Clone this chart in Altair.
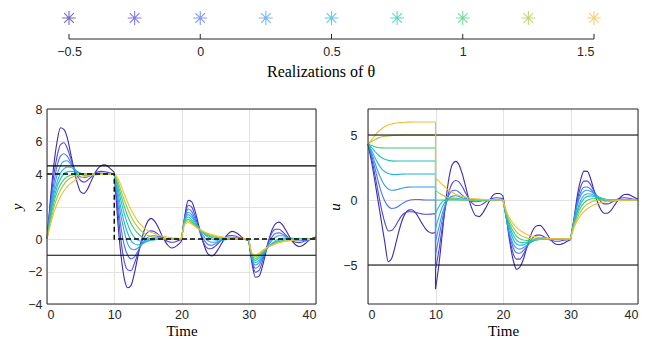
import altair as alt
import pandas as pd

THETA = [-0.5, -0.25, 0, 0.25, 0.5, 0.75, 1, 1.25, 1.5]
COLORS = ["#3e2aa8", "#4b46e2", "#4a72f6", "#3a9af0", "#21b4e2",
          "#22c3b4", "#3dca78", "#a2cb3a", "#f3bd38"]
THETA_TICKS = [-0.5, 0, 0.5, 1, 1.5]

T1 = [0, 0.5, 1, 1.5, 2, 2.5, 3, 3.5, 4, 4.5, 5, 5.5, 6, 6.5, 7, 7.5, 8, 8.5, 9, 9.5, 10]
T2 = [10, 10.5, 11, 11.5, 12, 12.5, 13, 13.5, 14, 14.5, 15, 15.5, 16, 16.5, 17, 17.5, 18, 18.5, 19, 19.5, 20]
T3 = [20, 20.5, 21, 21.5, 22, 22.5, 23, 23.5, 24, 24.5, 25, 25.5, 26, 26.5, 27, 27.5, 28, 28.5, 29, 29.5, 30]
T4 = [30, 30.5, 31, 31.5, 32, 32.5, 33, 33.5, 34, 34.5, 35, 35.5, 36, 36.5, 37, 37.5, 38, 38.5, 39, 39.5, 40]

Y = [
    [[0, 2.4, 4.5, 6.0, 6.85, 6.75, 6.25, 5.3, 4.3, 3.45, 2.9, 2.8, 3.05, 3.5, 3.95, 4.3, 4.5, 4.56, 4.48, 4.3, 4.1],
     [4.1, 1.2, -1.0, -2.45, -3.0, -2.85, -2.1, -1.1, -0.15, 0.6, 1.1, 1.27, 1.1, 0.75, 0.3, -0.1, -0.4, -0.55, -0.5, -0.35, -0.15],
     [-0.15, 1.45, 2.38, 2.3, 1.75, 0.95, 0.1, -0.55, -0.95, -1.05, -0.9, -0.6, -0.25, 0.1, 0.35, 0.47, 0.42, 0.28, 0.1, -0.03, -0.1],
     [-0.1, -1.55, -2.35, -2.3, -1.75, -0.9, -0.05, 0.6, 0.95, 1.04, 0.88, 0.55, 0.18, -0.15, -0.37, -0.46, -0.4, -0.25, -0.07, 0.06, 0.12]],
    [[0, 2.1, 3.9, 5.1, 5.8, 5.92, 5.6, 5.0, 4.4, 3.9, 3.6, 3.5, 3.6, 3.8, 4.0, 4.12, 4.16, 4.15, 4.1, 4.05, 4.02],
     [4.02, 1.9, -0.1, -1.4, -1.9, -1.95, -1.5, -0.9, -0.3, 0.15, 0.42, 0.5, 0.45, 0.3, 0.12, -0.05, -0.15, -0.2, -0.18, -0.1, -0.05],
     [-0.05, 1.38, 2.08, 1.98, 1.45, 0.75, 0.08, -0.4, -0.6, -0.58, -0.45, -0.26, -0.05, 0.12, 0.2, 0.22, 0.18, 0.1, 0.02, -0.03, -0.05],
     [-0.05, -1.38, -2.05, -1.95, -1.42, -0.72, -0.05, 0.42, 0.6, 0.6, 0.46, 0.25, 0.04, -0.12, -0.2, -0.22, -0.18, -0.1, -0.02, 0.03, 0.05]],
    [[0, 1.9, 3.4, 4.5, 5.1, 5.25, 5.1, 4.75, 4.35, 4.0, 3.82, 3.78, 3.82, 3.92, 4.0, 4.05, 4.06, 4.05, 4.03, 4.01, 4.0],
     [4.0, 2.3, 0.7, -0.4, -1.0, -1.22, -1.1, -0.75, -0.38, -0.08, 0.1, 0.18, 0.2, 0.16, 0.1, 0.04, 0.0, -0.02, -0.02, -0.01, 0.0],
     [0.0, 1.3, 1.85, 1.7, 1.25, 0.72, 0.22, -0.15, -0.35, -0.38, -0.3, -0.18, -0.05, 0.05, 0.1, 0.11, 0.09, 0.05, 0.02, 0.0, -0.01],
     [-0.01, -1.28, -1.8, -1.66, -1.22, -0.7, -0.22, 0.15, 0.35, 0.38, 0.3, 0.18, 0.05, -0.05, -0.1, -0.11, -0.09, -0.05, -0.02, 0.0, 0.01]],
    [[0, 1.7, 3.0, 3.95, 4.5, 4.78, 4.82, 4.62, 4.35, 4.12, 3.98, 3.92, 3.93, 3.97, 4.0, 4.02, 4.02, 4.01, 4.0, 4.0, 4.0],
     [4.0, 2.65, 1.4, 0.45, -0.3, -0.6, -0.66, -0.55, -0.35, -0.17, -0.03, 0.05, 0.08, 0.08, 0.06, 0.04, 0.02, 0.01, 0.01, 0.0, 0.0],
     [0.0, 1.25, 1.65, 1.5, 1.12, 0.72, 0.35, 0.06, -0.12, -0.2, -0.2, -0.15, -0.09, -0.03, 0.01, 0.03, 0.03, 0.02, 0.01, 0.0, 0.0],
     [0.0, -1.22, -1.6, -1.47, -1.1, -0.7, -0.34, -0.06, 0.12, 0.2, 0.2, 0.15, 0.09, 0.03, -0.01, -0.03, -0.03, -0.02, -0.01, 0.0, 0.0]],
    [[0, 1.5, 2.7, 3.5, 4.05, 4.32, 4.43, 4.42, 4.3, 4.15, 4.05, 3.99, 3.97, 3.98, 4.0, 4.0, 4.0, 4.0, 4.0, 4.0, 4.0],
     [4.0, 2.95, 1.9, 1.0, 0.35, -0.1, -0.3, -0.36, -0.32, -0.23, -0.13, -0.05, 0.0, 0.02, 0.03, 0.02, 0.01, 0.01, 0.0, 0.0, 0.0],
     [0.0, 1.2, 1.5, 1.35, 1.05, 0.75, 0.48, 0.26, 0.1, 0.0, -0.06, -0.07, -0.06, -0.04, -0.02, 0.0, 0.01, 0.01, 0.0, 0.0, 0.0],
     [0.0, -1.15, -1.45, -1.32, -1.02, -0.73, -0.47, -0.26, -0.1, 0.0, 0.05, 0.07, 0.06, 0.04, 0.02, 0.01, 0.0, 0.0, 0.0, 0.0, 0.0]],
    [[0, 1.35, 2.45, 3.2, 3.7, 4.0, 4.13, 4.16, 4.14, 4.09, 4.04, 4.01, 4.0, 4.0, 4.0, 4.0, 4.0, 4.0, 4.0, 4.0, 4.0],
     [4.0, 3.2, 2.35, 1.55, 0.9, 0.42, 0.1, -0.07, -0.14, -0.15, -0.12, -0.08, -0.05, -0.02, 0.0, 0.0, 0.0, 0.0, 0.0, 0.0, 0.0],
     [0.0, 1.12, 1.35, 1.18, 0.93, 0.68, 0.47, 0.3, 0.18, 0.09, 0.03, 0.0, -0.02, -0.02, -0.01, 0.0, 0.0, 0.0, 0.0, 0.0, 0.0],
     [0.0, -1.08, -1.32, -1.15, -0.91, -0.67, -0.46, -0.29, -0.17, -0.08, -0.02, 0.01, 0.02, 0.02, 0.01, 0.0, 0.0, 0.0, 0.0, 0.0, 0.0]],
    [[0, 1.2, 2.2, 2.9, 3.35, 3.65, 3.83, 3.92, 3.96, 3.98, 3.99, 4.0, 4.0, 4.0, 4.0, 4.0, 4.0, 4.0, 4.0, 4.0, 4.0],
     [4.0, 3.4, 2.7, 2.0, 1.4, 0.95, 0.6, 0.35, 0.17, 0.06, 0.0, -0.03, -0.04, -0.03, -0.02, -0.01, 0.0, 0.0, 0.0, 0.0, 0.0],
     [0.0, 1.05, 1.22, 1.06, 0.85, 0.65, 0.48, 0.35, 0.25, 0.17, 0.11, 0.07, 0.04, 0.03, 0.02, 0.01, 0.01, 0.0, 0.0, 0.0, 0.0],
     [0.0, -1.02, -1.2, -1.04, -0.83, -0.63, -0.47, -0.34, -0.24, -0.16, -0.1, -0.06, -0.04, -0.02, -0.01, 0.0, 0.0, 0.0, 0.0, 0.0, 0.0]],
    [[0, 1.0, 1.9, 2.55, 3.0, 3.35, 3.6, 3.75, 3.85, 3.91, 3.95, 3.97, 3.98, 3.99, 4.0, 4.0, 4.0, 4.0, 4.0, 4.0, 4.0],
     [4.0, 3.6, 3.0, 2.4, 1.85, 1.4, 1.02, 0.73, 0.5, 0.34, 0.22, 0.14, 0.08, 0.05, 0.03, 0.02, 0.01, 0.0, 0.0, 0.0, 0.0],
     [0.0, 0.98, 1.12, 0.98, 0.8, 0.63, 0.49, 0.38, 0.29, 0.22, 0.16, 0.12, 0.09, 0.07, 0.05, 0.04, 0.03, 0.02, 0.02, 0.01, 0.01],
     [0.01, -0.95, -1.1, -0.95, -0.77, -0.61, -0.48, -0.37, -0.28, -0.21, -0.16, -0.12, -0.09, -0.07, -0.05, -0.04, -0.03, -0.02, -0.02, -0.01, -0.01]],
    [[0, 0.85, 1.6, 2.15, 2.6, 2.95, 3.22, 3.42, 3.57, 3.68, 3.77, 3.83, 3.88, 3.91, 3.94, 3.96, 3.97, 3.98, 3.99, 3.99, 4.0],
     [4.0, 3.75, 3.3, 2.75, 2.25, 1.8, 1.42, 1.1, 0.85, 0.65, 0.5, 0.4, 0.33, 0.26, 0.2, 0.15, 0.11, 0.08, 0.06, 0.05, 0.04],
     [0.04, 0.9, 1.02, 0.92, 0.78, 0.64, 0.52, 0.42, 0.34, 0.27, 0.21, 0.17, 0.13, 0.1, 0.08, 0.06, 0.05, 0.04, 0.03, 0.02, 0.02],
     [0.02, -0.88, -0.98, -0.88, -0.72, -0.58, -0.46, -0.37, -0.29, -0.22, -0.17, -0.13, -0.1, -0.08, -0.06, -0.04, -0.03, -0.02, -0.02, -0.01, -0.01]],
]

U = [
    [[4.3, 3.0, 1.5, -0.1, -1.7, -3.3, -4.75, -4.5, -3.6, -2.55, -1.65, -1.05, -0.78, -0.75, -0.95, -1.35, -1.8, -2.2, -2.45, -2.55, -2.5],
     [-6.85, -5.0, -2.6, -0.2, 1.7, 2.75, 2.97, 2.7, 1.95, 0.95, -0.05, -0.8, -1.22, -1.28, -1.0, -0.55, -0.05, 0.35, 0.5, 0.5, 0.3],
     [0.3, -1.3, -3.2, -4.6, -5.33, -5.15, -4.6, -3.7, -2.85, -2.25, -1.98, -1.95, -2.2, -2.6, -3.0, -3.3, -3.42, -3.42, -3.32, -3.18, -3.06],
     [-3.06, -1.5, 0.3, 1.55, 2.22, 2.2, 1.6, 0.7, -0.15, -0.75, -1.02, -1.02, -0.8, -0.42, -0.05, 0.25, 0.42, 0.43, 0.33, 0.2, 0.08]],
    [[4.3, 3.3, 2.0, 0.6, -0.7, -1.75, -2.38, -2.35, -2.05, -1.6, -1.2, -0.98, -0.9, -0.9, -0.95, -1.02, -1.07, -1.1, -1.1, -1.08, -1.06],
     [-5.35, -3.9, -2.1, -0.5, 0.65, 1.3, 1.5, 1.38, 1.0, 0.5, 0.05, -0.28, -0.42, -0.42, -0.3, -0.13, 0.03, 0.13, 0.17, 0.15, 0.1],
     [0.1, -1.4, -3.0, -4.1, -4.55, -4.55, -4.2, -3.7, -3.2, -2.85, -2.7, -2.7, -2.8, -2.95, -3.08, -3.15, -3.17, -3.15, -3.1, -3.05, -3.02],
     [-3.02, -1.6, -0.05, 1.0, 1.45, 1.45, 1.15, 0.7, 0.22, -0.12, -0.3, -0.3, -0.2, -0.05, 0.08, 0.15, 0.17, 0.15, 0.1, 0.05, 0.02]],
    [[4.3, 3.5, 2.5, 1.45, 0.55, -0.1, -0.5, -0.65, -0.62, -0.48, -0.3, -0.15, -0.04, 0.02, 0.04, 0.04, 0.02, 0.0, 0.0, 0.0, 0.0],
     [-4.2, -2.9, -1.5, -0.35, 0.4, 0.72, 0.75, 0.6, 0.36, 0.13, -0.03, -0.11, -0.13, -0.1, -0.06, -0.02, 0.01, 0.02, 0.02, 0.01, 0.0],
     [0.0, -1.45, -2.8, -3.65, -4.05, -4.1, -3.9, -3.6, -3.3, -3.08, -2.95, -2.9, -2.9, -2.95, -3.0, -3.03, -3.04, -3.03, -3.02, -3.01, -3.0],
     [-3.0, -1.6, -0.25, 0.6, 0.98, 1.0, 0.83, 0.55, 0.27, 0.06, -0.05, -0.1, -0.1, -0.07, -0.03, 0.0, 0.02, 0.03, 0.02, 0.01, 0.0]],
    [[4.3, 3.7, 2.9, 2.15, 1.55, 1.1, 0.85, 0.75, 0.76, 0.83, 0.9, 0.96, 0.99, 1.0, 1.0, 1.0, 1.0, 1.0, 1.0, 1.0, 1.0],
     [-3.2, -2.1, -1.05, -0.3, 0.12, 0.3, 0.33, 0.26, 0.16, 0.08, 0.02, -0.01, -0.02, -0.02, -0.01, 0.0, 0.0, 0.0, 0.0, 0.0, 0.0],
     [0.0, -1.42, -2.6, -3.35, -3.7, -3.78, -3.68, -3.5, -3.3, -3.15, -3.05, -2.99, -2.97, -2.98, -2.99, -3.0, -3.0, -3.0, -3.0, -3.0, -3.0],
     [-3.0, -1.6, -0.4, 0.35, 0.68, 0.75, 0.65, 0.48, 0.3, 0.16, 0.06, 0.0, -0.02, -0.02, -0.01, 0.0, 0.0, 0.0, 0.0, 0.0, 0.0]],
    [[4.3, 3.85, 3.3, 2.8, 2.42, 2.17, 2.03, 1.97, 1.96, 1.97, 1.99, 2.0, 2.0, 2.0, 2.0, 2.0, 2.0, 2.0, 2.0, 2.0, 2.0],
     [-2.18, -1.3, -0.55, -0.1, 0.1, 0.15, 0.14, 0.1, 0.06, 0.03, 0.01, 0.0, 0.0, 0.0, 0.0, 0.0, 0.0, 0.0, 0.0, 0.0, 0.0],
     [0.0, -1.25, -2.25, -3.0, -3.38, -3.48, -3.45, -3.35, -3.24, -3.13, -3.06, -3.01, -2.99, -2.99, -3.0, -3.0, -3.0, -3.0, -3.0, -3.0, -3.0],
     [-3.0, -1.75, -0.75, -0.05, 0.35, 0.48, 0.46, 0.37, 0.25, 0.15, 0.07, 0.02, 0.0, -0.01, 0.0, 0.0, 0.0, 0.0, 0.0, 0.0, 0.0]],
    [[4.3, 4.05, 3.75, 3.48, 3.27, 3.13, 3.05, 3.01, 2.99, 3.0, 3.0, 3.0, 3.0, 3.0, 3.0, 3.0, 3.0, 3.0, 3.0, 3.0, 3.0],
     [-1.04, -0.5, -0.15, 0.02, 0.07, 0.07, 0.05, 0.03, 0.02, 0.01, 0.0, 0.0, 0.0, 0.0, 0.0, 0.0, 0.0, 0.0, 0.0, 0.0, 0.0],
     [0.0, -1.18, -2.05, -2.7, -3.08, -3.25, -3.28, -3.24, -3.18, -3.11, -3.06, -3.03, -3.01, -3.0, -3.0, -3.0, -3.0, -3.0, -3.0, -3.0, -3.0],
     [-3.0, -1.82, -0.95, -0.3, 0.1, 0.28, 0.32, 0.28, 0.2, 0.12, 0.06, 0.03, 0.01, 0.0, 0.0, 0.0, 0.0, 0.0, 0.0, 0.0, 0.0]],
    [[4.3, 4.2, 4.1, 4.04, 4.01, 4.0, 4.0, 4.0, 4.0, 4.0, 4.0, 4.0, 4.0, 4.0, 4.0, 4.0, 4.0, 4.0, 4.0, 4.0, 4.0],
     [-0.02, 0.0, 0.0, 0.0, 0.0, 0.0, 0.0, 0.0, 0.0, 0.0, 0.0, 0.0, 0.0, 0.0, 0.0, 0.0, 0.0, 0.0, 0.0, 0.0, 0.0],
     [0.0, -1.1, -1.85, -2.4, -2.77, -2.98, -3.08, -3.11, -3.1, -3.08, -3.05, -3.03, -3.02, -3.01, -3.0, -3.0, -3.0, -3.0, -3.0, -3.0, -3.0],
     [-3.0, -1.9, -1.15, -0.6, -0.23, -0.02, 0.08, 0.11, 0.1, 0.08, 0.05, 0.03, 0.02, 0.01, 0.0, 0.0, 0.0, 0.0, 0.0, 0.0, 0.0]],
    [[4.3, 4.48, 4.64, 4.76, 4.84, 4.9, 4.93, 4.95, 4.97, 4.98, 4.99, 5.0, 5.0, 5.0, 5.0, 5.0, 5.0, 5.0, 5.0, 5.0, 5.0],
     [0.74, 0.55, 0.38, 0.26, 0.18, 0.12, 0.08, 0.05, 0.03, 0.02, 0.01, 0.0, 0.0, 0.0, 0.0, 0.0, 0.0, 0.0, 0.0, 0.0, 0.0],
     [0.0, -1.0, -1.62, -2.1, -2.45, -2.68, -2.83, -2.92, -2.97, -3.0, -3.01, -3.01, -3.0, -3.0, -3.0, -3.0, -3.0, -3.0, -3.0, -3.0, -3.0],
     [-3.0, -2.0, -1.38, -0.9, -0.55, -0.32, -0.17, -0.08, -0.03, 0.0, 0.01, 0.01, 0.0, 0.0, 0.0, 0.0, 0.0, 0.0, 0.0, 0.0, 0.0]],
    [[4.3, 4.6, 4.95, 5.25, 5.48, 5.65, 5.77, 5.85, 5.9, 5.94, 5.96, 5.98, 5.99, 6.0, 6.0, 6.0, 6.0, 6.0, 6.0, 6.0, 6.0],
     [1.63, 1.45, 1.2, 0.95, 0.75, 0.58, 0.45, 0.35, 0.27, 0.21, 0.16, 0.12, 0.09, 0.07, 0.05, 0.04, 0.03, 0.02, 0.02, 0.01, 0.01],
     [0.01, -0.85, -1.4, -1.8, -2.1, -2.33, -2.5, -2.63, -2.72, -2.8, -2.85, -2.89, -2.92, -2.94, -2.96, -2.97, -2.98, -2.98, -2.99, -2.99, -3.0],
     [-3.0, -2.15, -1.6, -1.2, -0.9, -0.67, -0.5, -0.37, -0.28, -0.2, -0.15, -0.11, -0.08, -0.06, -0.04, -0.03, -0.02, -0.02, -0.01, -0.01, 0.0]],
]

REF_T = [0, 10, 10, 40]
REF_Y = [4, 4, 0, 0]
Y_LIMITS = [4.5, -1]
U_LIMITS = [5, -5]

SEG_T = [T1, T2, T3, T4]
N = len(THETA)
KEYS = [f"s{k}_{j}" for k in range(N) for j in range(4)]
KEY_COLORS = [COLORS[k] for k in range(N) for j in range(4)]


def long_table(curves):
    rows = []
    for k, curve in enumerate(curves):
        for j, (seg_t, seg_v) in enumerate(zip(SEG_T, curve)):
            for t, v in zip(seg_t, seg_v):
                rows.append({"t": float(t), "v": float(v), "key": f"s{k}_{j}"})
    return pd.DataFrame(rows)


def jump_table(curves):
    rows = []
    for k, curve in enumerate(curves):
        rows.append({"t": float(SEG_T[1][0]), "v": float(curve[0][-1]),
                     "v2": float(curve[1][0]), "key": f"s{k}_0"})
    return pd.DataFrame(rows)


y_df = long_table(Y)
u_df = long_table(U)
u_jump = jump_table(U)

SANS = "Liberation Sans"
SERIF = "Liberation Serif"
TXT = "#262626"
GRID = "#e3e3e3"
W_L, W_R, H = 269, 270, 195


def panel(df, ydom, yvals, ytitle, limits, width, label_pad, title_pad, ref=None, jumps=None):
    xs = alt.Scale(domain=[0, 40], nice=False, zero=False)
    ys = alt.Scale(domain=ydom, nice=False, zero=False)
    cscale = alt.Scale(domain=KEYS, range=KEY_COLORS)
    xa = alt.Axis(values=[0, 10, 20, 30, 40], titleFont=SERIF, titleFontSize=15,
                  titleFontWeight="normal", titleColor="#000000", titlePadding=3,
                  labelFont=SANS, labelFontSize=12.5, labelColor=TXT, labelPadding=4,
                  gridColor=GRID, ticks=False, tickSize=0, domain=False, labelOverlap=False)
    ya = alt.Axis(values=yvals, titleFont=SERIF, titleFontSize=15, titleFontStyle="italic",
                  titleFontWeight="normal", titleColor="#000000", titlePadding=title_pad,
                  labelFont=SANS, labelFontSize=12.5, labelColor=TXT, labelPadding=label_pad,
                  gridColor=GRID, ticks=False, tickSize=0, domain=False, labelOverlap=False)

    def X(field):
        return alt.X(field, scale=xs, title="Time", axis=xa)

    def Yc(field):
        return alt.Y(field, scale=ys, title=ytitle, axis=ya)

    curves = alt.Chart(df).mark_line(strokeWidth=1.1, interpolate="monotone").encode(
        x=X("t:Q"), y=Yc("v:Q"),
        color=alt.Color("key:N", scale=cscale, legend=None),
    )
    lims = alt.Chart(pd.DataFrame({"lv": limits})).mark_rule(color="black", strokeWidth=1.1).encode(
        y=Yc("lv:Q")
    )
    hframe = alt.Chart(pd.DataFrame({"fv": ydom})).mark_rule(color=TXT, strokeWidth=1).encode(
        y=Yc("fv:Q")
    )
    vframe = alt.Chart(pd.DataFrame({"fx": [0, 40]})).mark_rule(color=TXT, strokeWidth=1).encode(
        x=X("fx:Q")
    )
    layers = [curves, lims]
    if jumps is not None:
        jl = alt.Chart(jumps).mark_rule(strokeWidth=1.1).encode(
            x=X("t:Q"), y=Yc("v:Q"), y2="v2",
            color=alt.Color("key:N", scale=cscale, legend=None),
        )
        layers.append(jl)
    if ref is not None:
        rdf = pd.DataFrame({"t": ref[0], "v": ref[1]})
        refl = alt.Chart(rdf).mark_line(color="black", strokeWidth=1.4, strokeDash=[5, 3]).encode(
            x=X("t:Q"), y=Yc("v:Q")
        )
        layers.append(refl)
    layers += [hframe, vframe]
    return alt.layer(*layers).properties(width=width, height=H)


left = panel(y_df, [-4, 8], [-4, -2, 0, 2, 4, 6, 8], "y", Y_LIMITS, W_L, 5, 3, ref=(REF_T, REF_Y))
right = panel(u_df, [-8, 7], [-5, 0, 5], "u", U_LIMITS, W_R, 11, 0, jumps=u_jump)

# ---------------- top strip: realizations of theta ----------------
ASTERISK = "M-1,0L1,0M0,-1L0,1M-0.7,-0.7L0.7,0.7M-0.7,0.7L0.7,-0.7"
TOP_W, TOP_H = 547, 30
tx = alt.Scale(domain=[-0.5838, 1.5], nice=False, zero=False)
ty = alt.Scale(domain=[0, 1], nice=False, zero=False)
top_axis = alt.Axis(values=THETA_TICKS, format="~g", titleFont=SERIF, titleFontSize=16,
                    titleFontWeight="normal", titleColor="#000000", titlePadding=6, labelPadding=6,
                    ticks=False, tickSize=0, domain=False, grid=False, labelFont=SANS,
                    labelFontSize=12.5, labelColor=TXT, labelOverlap=False)


def TX(field):
    return alt.X(field, scale=tx, title="Realizations of θ", axis=top_axis)


mk_df = pd.DataFrame({"theta": THETA, "m": [f"m{k}" for k in range(N)], "yy": [0.7] * N})
markers = alt.Chart(mk_df).mark_point(shape=ASTERISK, size=190, strokeWidth=1.1, filled=False).encode(
    x=TX("theta:Q"),
    y=alt.Y("yy:Q", scale=ty, axis=None),
    stroke=alt.Stroke("m:N", scale=alt.Scale(domain=[f"m{k}" for k in range(N)], range=COLORS), legend=None),
)
line_df = pd.DataFrame({"a": [THETA_TICKS[0]], "b": [THETA_TICKS[-1]], "yy": [0.0]})
axis_line = alt.Chart(line_df).mark_rule(color=TXT, strokeWidth=1).encode(
    x=TX("a:Q"), x2="b", y=alt.Y("yy:Q", scale=ty, axis=None)
)
tk_df = pd.DataFrame({"tv": THETA_TICKS, "y0": [0.0] * 5, "y1": [0.17] * 5})
tick_marks = alt.Chart(tk_df).mark_rule(color=TXT, strokeWidth=1).encode(
    x=TX("tv:Q"), y=alt.Y("y0:Q", scale=ty, axis=None), y2="y1"
)
top = alt.layer(markers, axis_line, tick_marks).properties(width=TOP_W, height=TOP_H)

chart = alt.vconcat(
    top,
    alt.hconcat(left, right, spacing=8),
    spacing=23,
).properties(
    padding={"left": 1, "top": 0, "right": 5, "bottom": 5}
).configure_view(strokeWidth=0)

chart.save("out.html", embed_options={"renderer": "svg", "actions": False})
